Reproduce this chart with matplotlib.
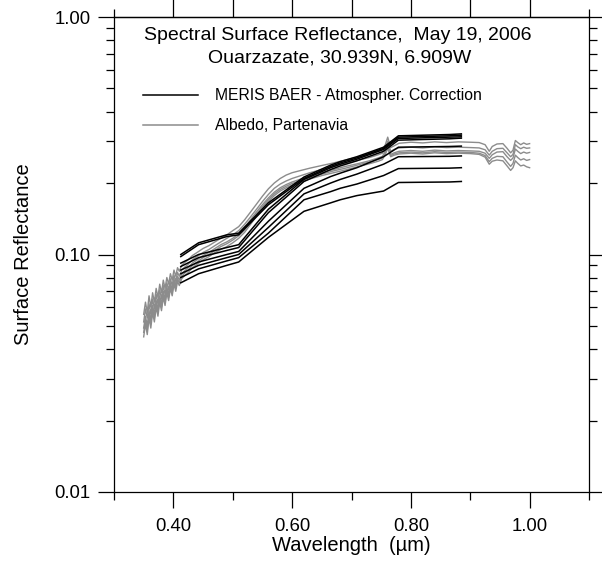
import matplotlib
matplotlib.use("Agg")
import matplotlib.pyplot as plt
from matplotlib.ticker import FixedLocator, NullFormatter, FixedFormatter

plt.rcParams['font.family'] = ['Liberation Sans', 'DejaVu Sans']

# MERIS band centres (um) and BAER surface reflectance, one list per pixel
meris_wl = [0.4125, 0.4425, 0.490, 0.510, 0.560, 0.620, 0.665, 0.681, 0.709, 0.754, 0.779, 0.865, 0.885]
meris_1 = [0.100, 0.112, 0.121, 0.123, 0.165, 0.212, 0.238, 0.246, 0.258, 0.283, 0.316, 0.320, 0.322]
meris_2 = [0.098, 0.110, 0.119, 0.121, 0.162, 0.209, 0.235, 0.243, 0.255, 0.280, 0.312, 0.316, 0.318]
meris_3 = [0.092, 0.100, 0.107, 0.110, 0.155, 0.207, 0.232, 0.240, 0.252, 0.277, 0.308, 0.312, 0.313]
meris_4 = [0.089, 0.097, 0.104, 0.107, 0.150, 0.203, 0.228, 0.236, 0.248, 0.272, 0.303, 0.307, 0.309]
meris_5 = [0.086, 0.093, 0.100, 0.103, 0.138, 0.190, 0.213, 0.220, 0.232, 0.258, 0.283, 0.285, 0.286]
meris_6 = [0.083, 0.090, 0.097, 0.100, 0.130, 0.180, 0.200, 0.207, 0.218, 0.240, 0.258, 0.259, 0.260]
meris_7 = [0.080, 0.087, 0.094, 0.097, 0.123, 0.170, 0.184, 0.190, 0.198, 0.215, 0.230, 0.231, 0.232]
meris_8 = [0.076, 0.083, 0.090, 0.093, 0.118, 0.152, 0.165, 0.170, 0.177, 0.185, 0.201, 0.202, 0.203]

# Partenavia albedo spectra
albedo_wl = [0.350, 0.353, 0.356, 0.359, 0.362, 0.365, 0.368, 0.371, 0.374, 0.377, 0.380, 0.383,
             0.386, 0.389, 0.392, 0.395, 0.398, 0.401, 0.404, 0.407, 0.410, 0.414, 0.418,
             0.425, 0.432, 0.440, 0.450, 0.460, 0.470, 0.480, 0.490, 0.500, 0.510,
             0.520, 0.530, 0.540, 0.550, 0.560, 0.570, 0.580, 0.590, 0.600, 0.615,
             0.630, 0.650, 0.670, 0.690, 0.710, 0.730, 0.745, 0.752, 0.757, 0.761,
             0.766, 0.772, 0.780, 0.800, 0.820, 0.840, 0.860, 0.880, 0.900, 0.915,
             0.925, 0.932, 0.937, 0.945, 0.955, 0.962, 0.968, 0.972, 0.976, 0.980,
             0.985, 0.990, 0.995, 1.000]
albedo_1 = [0.056, 0.063, 0.057, 0.067, 0.060, 0.069, 0.063, 0.072, 0.066, 0.075, 0.069, 0.078,
            0.072, 0.080, 0.075, 0.083, 0.078, 0.086, 0.081, 0.088, 0.085, 0.090, 0.092,
            0.095, 0.099, 0.102, 0.106, 0.109, 0.113, 0.117, 0.121, 0.126, 0.131,
            0.140, 0.151, 0.163, 0.176, 0.189, 0.200, 0.209, 0.216, 0.221, 0.226,
            0.231, 0.237, 0.243, 0.250, 0.257, 0.265, 0.272, 0.276, 0.290, 0.312,
            0.282, 0.287, 0.294, 0.297, 0.295, 0.298, 0.296, 0.298, 0.297, 0.296,
            0.290, 0.272, 0.285, 0.292, 0.293, 0.280, 0.268, 0.275, 0.302, 0.296,
            0.290, 0.295, 0.291, 0.293]
albedo_2 = [0.052, 0.059, 0.054, 0.062, 0.056, 0.065, 0.059, 0.068, 0.062, 0.071, 0.065, 0.074,
            0.068, 0.076, 0.071, 0.079, 0.074, 0.082, 0.077, 0.084, 0.081, 0.086, 0.088,
            0.091, 0.095, 0.098, 0.102, 0.105, 0.109, 0.113, 0.117, 0.121, 0.126,
            0.134, 0.144, 0.155, 0.167, 0.179, 0.190, 0.198, 0.204, 0.209, 0.215,
            0.221, 0.228, 0.235, 0.242, 0.249, 0.256, 0.263, 0.267, 0.282, 0.300,
            0.272, 0.277, 0.281, 0.283, 0.281, 0.284, 0.282, 0.283, 0.282, 0.281,
            0.276, 0.262, 0.272, 0.279, 0.280, 0.268, 0.258, 0.264, 0.290, 0.284,
            0.279, 0.283, 0.280, 0.281]
albedo_3 = [0.049, 0.055, 0.050, 0.058, 0.053, 0.061, 0.056, 0.064, 0.059, 0.067, 0.062, 0.070,
            0.065, 0.073, 0.068, 0.076, 0.071, 0.079, 0.074, 0.081, 0.078, 0.083, 0.085,
            0.088, 0.092, 0.095, 0.099, 0.102, 0.106, 0.110, 0.113, 0.117, 0.122,
            0.130, 0.140, 0.151, 0.162, 0.173, 0.183, 0.191, 0.197, 0.202, 0.208,
            0.214, 0.221, 0.228, 0.235, 0.241, 0.248, 0.255, 0.259, 0.272, 0.290,
            0.264, 0.268, 0.272, 0.274, 0.272, 0.275, 0.273, 0.274, 0.273, 0.272,
            0.267, 0.254, 0.263, 0.270, 0.271, 0.258, 0.249, 0.255, 0.278, 0.272,
            0.266, 0.270, 0.267, 0.269]
albedo_4 = [0.047, 0.053, 0.048, 0.056, 0.051, 0.059, 0.054, 0.062, 0.057, 0.065, 0.060, 0.068,
            0.063, 0.071, 0.066, 0.074, 0.069, 0.077, 0.072, 0.079, 0.076, 0.081, 0.083,
            0.086, 0.090, 0.093, 0.097, 0.100, 0.104, 0.108, 0.111, 0.115, 0.120,
            0.127, 0.137, 0.148, 0.159, 0.170, 0.180, 0.188, 0.194, 0.199, 0.205,
            0.211, 0.218, 0.225, 0.231, 0.238, 0.245, 0.251, 0.255, 0.268, 0.285,
            0.261, 0.265, 0.268, 0.270, 0.268, 0.271, 0.269, 0.270, 0.269, 0.267,
            0.261, 0.246, 0.254, 0.259, 0.258, 0.245, 0.235, 0.242, 0.262, 0.256,
            0.250, 0.253, 0.249, 0.251]
albedo_5 = [0.045, 0.051, 0.046, 0.054, 0.049, 0.057, 0.052, 0.060, 0.055, 0.063, 0.058, 0.066,
            0.061, 0.069, 0.064, 0.072, 0.067, 0.075, 0.070, 0.077, 0.074, 0.079, 0.081,
            0.084, 0.088, 0.091, 0.095, 0.098, 0.102, 0.105, 0.108, 0.112, 0.117,
            0.124, 0.134, 0.145, 0.156, 0.167, 0.177, 0.185, 0.191, 0.196, 0.202,
            0.208, 0.215, 0.221, 0.227, 0.234, 0.241, 0.247, 0.251, 0.264, 0.280,
            0.258, 0.262, 0.265, 0.267, 0.265, 0.268, 0.266, 0.267, 0.266, 0.264,
            0.257, 0.240, 0.247, 0.250, 0.248, 0.236, 0.226, 0.232, 0.248, 0.242,
            0.236, 0.238, 0.234, 0.232]

x_major = [0.4, 0.6, 0.8, 1.0]
x_labels = ["0.40", "0.60", "0.80", "1.00"]
x_minor = [0.3, 0.5, 0.7, 0.9, 1.1]
y_major = [0.01, 0.1, 1.0]
y_labels = ["0.01", "0.10", "1.00"]

W, H = 602, 562
fig = plt.figure(figsize=(W / 100, H / 100), dpi=100)
ax = fig.add_axes([114 / W, 70 / H, 475 / W, 475 / H])

albedo = [albedo_1, albedo_2, albedo_3, albedo_4, albedo_5]
meris = [meris_1, meris_2, meris_3, meris_4, meris_5, meris_6, meris_7, meris_8]
for a in albedo:
    ax.plot(albedo_wl, a, color='#8c8c8c', lw=1.0)
for m in meris:
    ax.plot(meris_wl, m, color='black', lw=1.1)

ax.set_yscale('log')
ax.set_xlim(0.3, 1.1)
ax.set_ylim(0.01, 1.0)

ax.xaxis.set_major_locator(FixedLocator(x_major))
ax.xaxis.set_major_formatter(FixedFormatter(x_labels))
ax.xaxis.set_minor_locator(FixedLocator(x_minor))
ax.xaxis.set_minor_formatter(NullFormatter())
ax.yaxis.set_major_locator(FixedLocator(y_major))
ax.yaxis.set_major_formatter(FixedFormatter(y_labels))
ax.yaxis.set_minor_locator(FixedLocator([k * 0.01 for k in range(2, 10)] + [k * 0.1 for k in range(2, 10)]))
ax.yaxis.set_minor_formatter(NullFormatter())

ax.tick_params(which='both', direction='out', left=True, right=True, bottom=True, top=False,
               width=0.9, labelsize=13.3)
ax.tick_params(which='major', length=11.5)
ax.tick_params(which='minor', length=5.8)
ax.tick_params(axis='x', which='major', pad=7)
ax.tick_params(axis='y', which='major', pad=5.5)

top = ax.secondary_xaxis('top')
top.xaxis.set_major_locator(FixedLocator([0.4, 0.5, 0.6, 0.7, 0.8, 0.9, 1.0]))
top.xaxis.set_minor_locator(FixedLocator([0.3, 1.1]))
top.tick_params(which='both', direction='out', width=0.9, labeltop=False)
top.tick_params(which='major', length=13)
top.tick_params(which='minor', length=5.8)
top.spines['top'].set_linewidth(0.9)

for s in ax.spines.values():
    s.set_linewidth(0.9)

ax.set_xlabel("Wavelength  (\u00b5m)", fontsize=14.5, labelpad=1)
ax.set_ylabel("Surface Reflectance", fontsize=14.5)
ax.yaxis.set_label_coords(-0.17, 0.5)

fig.text(338 / W, 1 - 36 / H, "Spectral Surface Reflectance,  May 19, 2006",
         ha='center', va='center', fontsize=14)
fig.text(340 / W, 1 - 58 / H, "Ouarzazate, 30.939N, 6.909W",
         ha='center', va='center', fontsize=14)

# legend drawn by hand in NCL style
fig.add_artist(plt.Line2D([143 / W, 198 / W], [1 - 95 / H, 1 - 95 / H], color='black', lw=1.1))
fig.add_artist(plt.Line2D([143 / W, 198 / W], [1 - 125 / H, 1 - 125 / H], color='#8c8c8c', lw=1.1))
fig.text(215 / W, 1 - 95 / H, "MERIS BAER - Atmospher. Correction", fontsize=11.3, va='center')
fig.text(215 / W, 1 - 125 / H, "Albedo, Partenavia", fontsize=11.3, va='center')

fig.savefig("out.png", dpi=100)
